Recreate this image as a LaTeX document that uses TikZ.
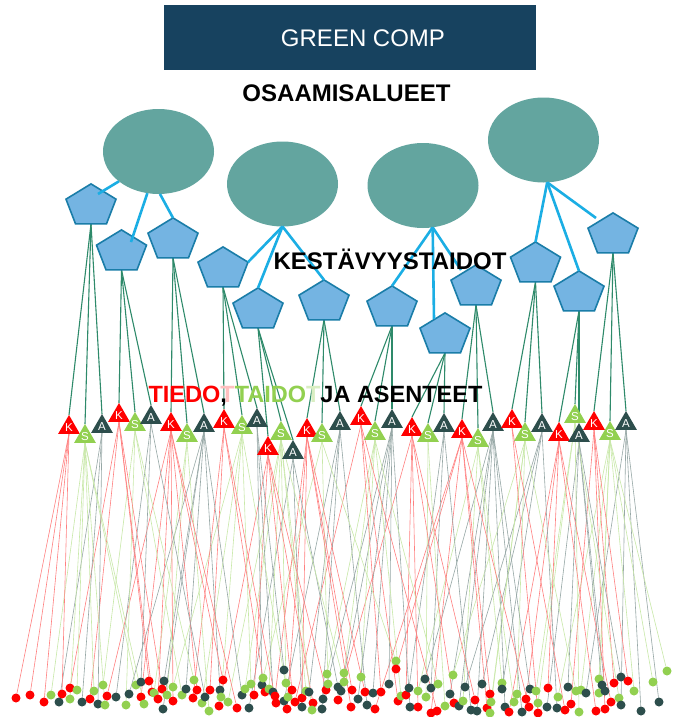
\documentclass[tikz,border=0pt]{standalone}
\usepackage{fontspec}
\setmainfont{Liberation Sans}
\usetikzlibrary{shapes.geometric,calc}
\definecolor{titlebg}{HTML}{17425F}
\definecolor{ellc}{HTML}{63A59F}
\definecolor{pentfill}{HTML}{74B4E2}
\definecolor{pentdraw}{HTML}{1A7DA8}
\definecolor{bluel}{HTML}{1BAEE4}
\definecolor{greenl}{HTML}{2E8A6A}
\definecolor{colK}{HTML}{FF0000}
\definecolor{colS}{HTML}{92D050}
\definecolor{colA}{HTML}{2D4E4C}
\pgfdeclarelayer{back}
\pgfsetlayers{back,main}
\newcommand\pentnode[3]{\begin{scope}[shift={(#2,#3)},yscale=0.84]\node[pent,transform shape] (#1) at (0,0) {};\end{scope}}
\def\baseK{69}\def\baseS{85}\def\baseA{102}
\begin{document}
\begin{tikzpicture}[x=1pt,y=-1pt,
  ell/.style={ellipse, fill=ellc, minimum width=111, minimum height=85, inner sep=0, outer sep=0},
  pent/.style={regular polygon, regular polygon sides=5, minimum size=52.6, inner sep=0, outer sep=0, fill=pentfill, draw=pentdraw, line width=1.6pt},
  bl/.style={draw=bluel, line width=2.6pt},
  gl/.style={draw=greenl, line width=1.1pt},
  tri/.style={regular polygon, regular polygon sides=3, minimum size=25, inner sep=0, outer sep=0, fill=#1, text=white, font=\fontsize{11.5}{11.5}\selectfont},
  dot/.style={circle, minimum size=9, inner sep=0, outer sep=0},
  hd/.style={font=\bfseries\fontsize{24}{26}\selectfont, anchor=base, inner sep=0}]
\begin{pgfonlayer}{back}
\fill[white] (0,0) rectangle (675,717);
\end{pgfonlayer}
\useasboundingbox (0,0) rectangle (675,717);
% title
\node[fill=titlebg, minimum width=372, minimum height=65, inner sep=0] (title) at (350,37.5) {};
\node[text=white, font=\fontsize{24}{26}\selectfont, anchor=base, inner sep=0] (titletxt) at (363,47) {GREEN COMP};
% ellipses
\node[ell] (e1) at (158.5,151.5) {};
\node[ell] (e2) at (282.5,184) {};
\node[ell] (e3) at (423,185.5) {};
\node[ell] (e4) at (543.5,140) {};
% pentagons
\pentnode{p1}{91}{206}
\pentnode{p2}{121.5}{252}
\pentnode{p3}{173}{240}
\pentnode{p4}{223}{269}
\pentnode{p5}{258}{310}
\pentnode{p6}{324}{302}
\pentnode{p7}{392}{308}
\pentnode{p8}{445}{335}
\pentnode{p9}{476}{287}
\pentnode{p10}{535.5}{264}
\pentnode{p11}{579}{293}
\pentnode{p12}{613}{235}
% blue connectors
\draw[bl] (e1.217) -- ($(p1.center)+(7,-12)$);
\draw[bl] (e1.255) -- ($(p2.center)+(9.5,-10)$);
\draw[bl] (e1.272) -- (p3.corner 1);
\draw[bl] (e2.south) -- (p4.corner 5);
\draw[bl] (e2.south) -- (p5.corner 1);
\draw[bl] (e2.south) -- (p6.corner 1);
\draw[bl] (e3.283) -- (p7.corner 1);
\draw[bl] (e3.283) -- ($(p8.center)+(-11,-16)$);
\draw[bl] (e3.283) -- ($(p9.center)+(-15,-17)$);
\draw[bl] (e4.275) -- (p10.corner 1);
\draw[bl] (e4.275) -- (p11.corner 1);
\draw[bl] (e4.275) -- ($(p12.center)+(-17,-17)$);
% triangles
\foreach \i/\kx/\ky/\sx/\sy/\ax/\ay in {
 1/69/415/85/424/102/414,
 2/119/403/135/412/151/405,
 3/171/412/187/423/204/413,
 4/224/409/242/415/257/408,
 5/268/436/281/421/293/440,
 6/307/418/322/423/340/411,
 7/361/406/375/421/392/409,
 8/412/417/428/423/444/413,
 9/462/419/478/428/493/412,
 10/512/409/525/422/542/413,
 11/559/422/575/404/579/423,
 12/594/411/610/421/626/411}{
  \node[tri=colK] (K\i) at (\kx,\ky+12.5) {K};
  \node[tri=colS] (S\i) at (\sx,\sy+12.5) {S};
  \node[tri=colA] (A\i) at (\ax,\ay+12.5) {A};
  \begin{pgfonlayer}{back}
  \draw[gl] (p\i.south) -- (K\i.corner 1);
  \draw[gl] (p\i.south) -- (S\i.corner 1);
  \draw[gl] (p\i.south) -- (A\i.corner 1);
  \end{pgfonlayer}
}
% dots
\foreach \px/\py/\c [count=\n] in {
16/698/K, 30/695/K, 44/702/K, 51/695/S, 59/702/A, 62/694/K, 70/688/K, 70/699/S, 77/690/S, 82/702/A,
90/699/K, 94/691/S, 98/704/A, 103/685/S, 107/696/K, 105/705/S, 116/697/A, 126/705/S, 129/694/A, 136/685/S,
141/682/A, 149/681/K, 141/697/K, 144/704/S, 152/692/K, 154/693/S, 164/681/A, 162/689/K, 158/699/K, 167/695/S,
173/687/S, 173/701/K, 163/709/A, 182/695/S, 186/689/A, 194/680/S, 197/690/K, 193/698/K, 202/703/S, 205/697/A,
210/690/K, 209/711/S, 219/706/K, 220/690/A, 221/697/S, 223/680/K, 228/702/S, 237/708/K, 242/695/A, 245/689/S,
249/708/A, 251/684/S, 254/695/K, 262/685/A, 263/678/S, 265/692/K, 269/689/S, 273/692/A, 275/696/K, 276/703/K,
284/670/A, 286/683/S, 284/701/A, 288/697/S, 287/709/K, 292/690/K, 295/702/K, 302/707/A, 302/698/K, 306/691/S,
309/692/A, 313/703/K, 312/710/S, 322/709/A, 323/699/A, 326/690/K, 327/674/S, 328/684/S, 338/700/K, 338/687/A,
344/673/S, 344/682/S, 341/691/A, 352/690/K, 351/707/K, 361/677/S, 358/699/A, 365/692/K, 373/693/A, 367/705/A,
375/709/K, 381/692/K, 389/684/A, 396/661/S, 396/669/K, 398/701/K, 401/696/S, 406/695/K, 409/688/A, 410/707/A,
418/691/S, 418/707/K, 425/679/A, 426/697/S, 431/688/A, 438/684/S, 431/713/K, 437/711/K, 445/706/S, 450/694/A,
453/675/S, 454/703/K, 459/706/A, 463/701/S, 465/687/A, 471/710/A, 477/711/A, 475/700/K, 482/684/A, 487/708/K,
490/694/K, 491/702/S, 490/713/S, 502/683/S, 502/689/A, 505/707/A, 509/712/K, 514/702/S, 517/694/S, 522/712/A,
526/699/K, 529/707/K, 530/689/A, 536/691/S, 538/703/S, 538/713/K, 547/707/A, 548/688/K, 558/697/S, 557/708/A,
568/687/A, 565/710/K, 571/704/K, 576/691/S, 579/712/S, 581/690/S, 586/693/A, 596/711/K, 599/679/S, 602/685/A,
599/693/S, 605/691/A, 605/709/K, 611/702/K, 614/683/K, 619/698/S, 621/677/A, 621/705/A, 628/681/K, 634/691/S,
641/711/A, 653/682/S, 659/702/A, 667/671/S}{
  \edef\bb{\csname base\c\endcsname}
  \pgfmathsetmacro\off{{-60,-25,10,45,-45,25,-10,60,-30,15,-50,35}[mod(\n,12)]}
  \pgfmathtruncatemacro\idx{max(1,min(12,round((\px+\off-\bb)/47.7)+1))}
  \node[dot, fill=col\c] (d\n) at (\px,\py) {};
  \begin{pgfonlayer}{back}
  \draw[line width=0.6pt, col\c!50] (\c\idx.south) -- (d\n);
  \end{pgfonlayer}
}
% headings
\node[hd] (h1) at (346.5,101) {OSAAMISALUEET};
\node[hd] (h2) at (390,269) {KESTÄVYYSTAIDOT};
\node[hd, font=\bfseries\fontsize{23.5}{26}\selectfont] (h3) at (315.5,402) {\textcolor{colK}{TIEDO}\rlap{,}\textcolor{colK!25}{T}\textcolor{colS}{TAIDO}\textcolor{colS!35}{T}JA ASENTEET};
\end{tikzpicture}
\end{document}
